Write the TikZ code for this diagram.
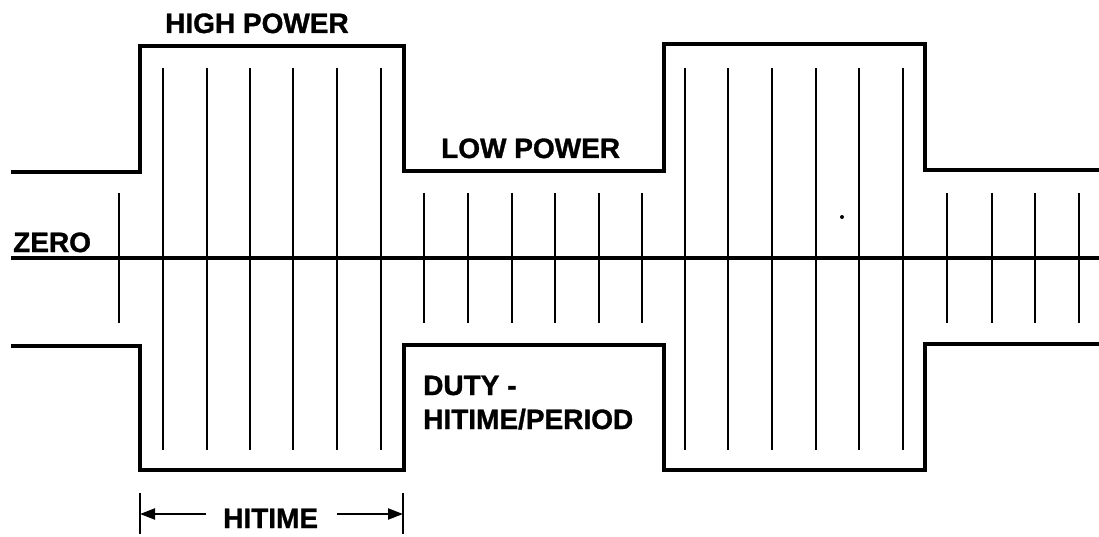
\documentclass[tikz,border=0pt]{standalone}
\usepackage{fontspec}
\setmainfont{Liberation Sans}[BoldFeatures={FakeBold=1.2}]
\usetikzlibrary{arrows.meta}
\begin{document}
\begin{tikzpicture}[x=1pt,y=-1pt,
  env/.style={line width=3.4pt, line join=miter, line cap=butt},
  hiline/.style={line width=2pt},
  loline/.style={line width=2.3pt},
  lbl/.style={font=\fontsize{28}{34}\selectfont\bfseries, inner sep=0pt, anchor=base west},
  dimarrow/.style={line width=2.2pt, -{Triangle[length=15pt,width=11pt]}},
  dimtick/.style={line width=2.2pt}]
\useasboundingbox (0,0) rectangle (1099,537);
\fill[white] (0,0) rectangle (1099,537);
% upper envelope
\draw[env] (11,172) -- (140,172) -- (140,46) -- (404,46) -- (404,171)
  -- (664,171) -- (664,44) -- (925,44) -- (925,170) -- (1099,170);
% lower envelope
\draw[env] (11,346) -- (140,346) -- (140,470) -- (404,470) -- (404,345)
  -- (664,345) -- (664,470) -- (925,470) -- (925,344) -- (1099,344);
% zero line
\draw[env] (11,258) -- (1099,258);
% carrier lines, low power
\foreach \x in {119,424,468,512,555,599,642,947,992,1035,1079}
  \draw[loline] (\x,193) -- (\x,323);
% carrier lines, high power
\foreach \x in {163,207,250,293,337,381,685,728,772,816,859,903}
  \draw[hiline] (\x,68) -- (\x,450);
% stray dot
\fill (842,217) circle (2);
% labels
\node[lbl] (high) at (165,33) {HIGH POWER};
\node[lbl] (low) at (441,158) {LOW POWER};
\node[lbl] (zero) at (13,252) {ZERO};
\node[lbl] (duty1) at (423,395) {DUTY -};
\node[lbl] (duty2) at (423,429) {HITIME/PERIOD};
\node[lbl] (hitime) at (223,528) {HITIME};
% HITIME dimension
\coordinate (tl1) at (140,493); \coordinate (tl2) at (140,534);
\coordinate (tr1) at (403,493); \coordinate (tr2) at (403,534);
\coordinate (lt) at (140,514); \coordinate (la) at (206,514);
\coordinate (rt) at (403,514); \coordinate (ra) at (337,514);
\draw[dimtick] (tl1) -- (tl2);
\draw[dimtick] (tr1) -- (tr2);
\draw[dimarrow] (la) -- (lt);
\draw[dimarrow] (ra) -- (rt);
\end{tikzpicture}
\end{document}
